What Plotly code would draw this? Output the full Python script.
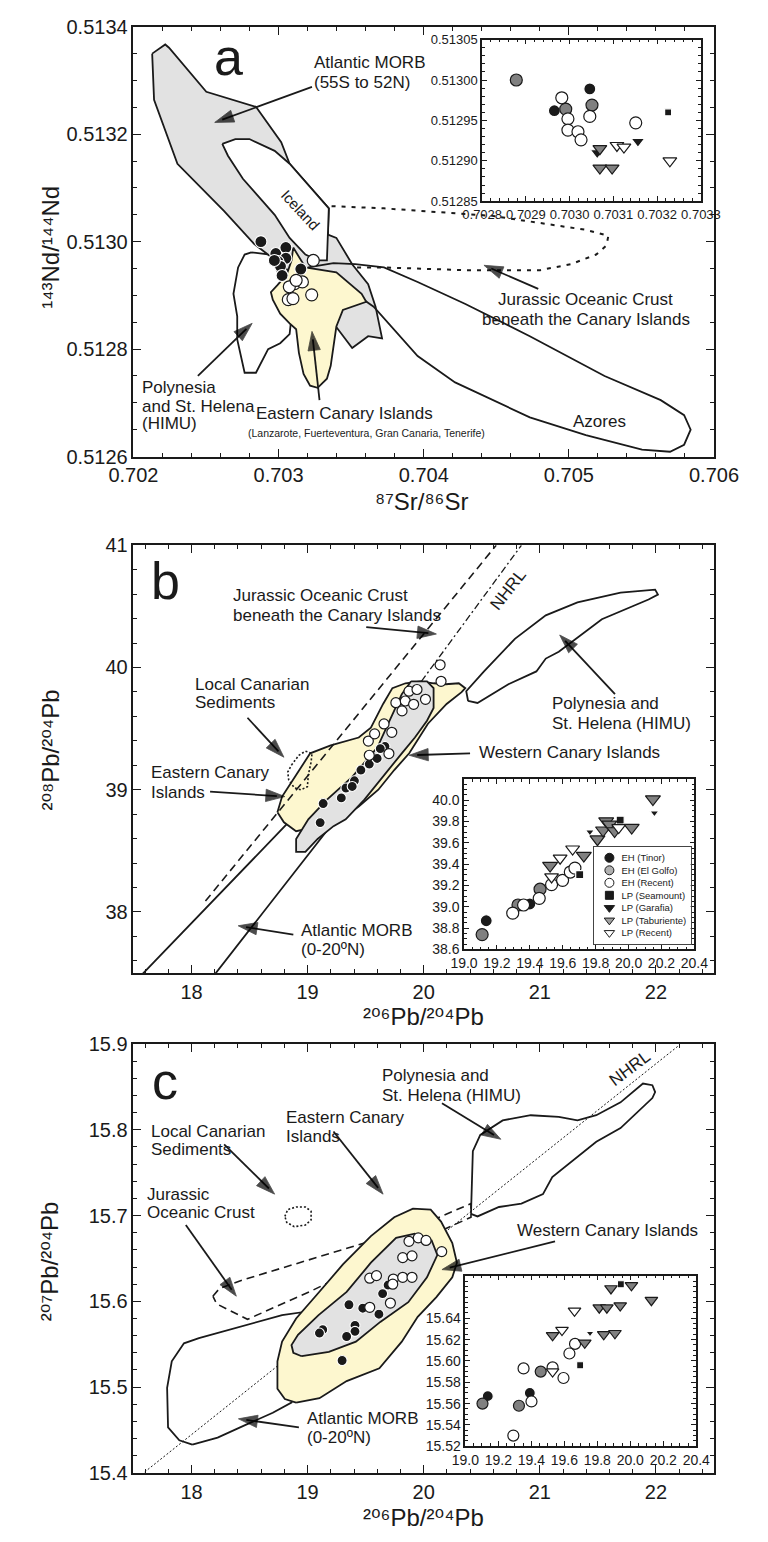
import plotly.graph_objects as go

FONT = "Liberation Sans, Arial, Helvetica, DejaVu Sans, sans-serif"
INK = "#1a1a1a"
YELLOW = "#fdf7cf"
GRAYFILL = "#e2e2e2"
MGRAY = "#808080"

# ================= Panel a : 87Sr/86Sr vs 143Nd/144Nd =================
a_morb_x = [0.702129, 0.702219, 0.702245, 0.702502, 0.702844, 0.703018, 0.703076, 0.703346, 0.703340, 0.703398,
            0.703507, 0.703617, 0.703668, 0.703713, 0.703617, 0.703507, 0.703378, 0.703185, 0.703056, 0.702831,
            0.702625, 0.702303, 0.702142]
a_morb_y = [0.513350, 0.513367, 0.513361, 0.513279, 0.513251, 0.513185, 0.513145, 0.513062, 0.513013, 0.513007,
            0.512958, 0.512921, 0.512879, 0.512820, 0.512824, 0.512802, 0.512848, 0.512906, 0.512949, 0.512996,
            0.513057, 0.513145, 0.513264]
a_iceland_x = [0.702612, 0.702702, 0.702799, 0.702973, 0.703076, 0.703346, 0.703333, 0.703269, 0.703185, 0.703076,
               0.702973, 0.702863, 0.702754, 0.702651]
a_iceland_y = [0.513182, 0.513191, 0.513191, 0.513169, 0.513145, 0.513062, 0.512965, 0.512965, 0.512976, 0.513007,
               0.513050, 0.513084, 0.513117, 0.513160]
a_himu_x = [0.702812, 0.702940, 0.703024, 0.703089, 0.703076, 0.703011, 0.702928, 0.702844, 0.702766, 0.702715,
            0.702715, 0.702689, 0.702721, 0.702766]
a_himu_y = [0.512980, 0.512976, 0.512925, 0.512861, 0.512828, 0.512811, 0.512800, 0.512756, 0.512756, 0.512818,
            0.512861, 0.512903, 0.512952, 0.512976]
a_eci_x = [0.703101, 0.703185, 0.703398, 0.703462, 0.703572, 0.703604, 0.703507, 0.703443, 0.703398, 0.703378,
           0.703359, 0.703333, 0.703269, 0.703217, 0.703172, 0.703140, 0.703121, 0.703076, 0.703011, 0.702960,
           0.702947, 0.702992, 0.703056, 0.703089]
a_eci_y = [0.512989, 0.512952, 0.512943, 0.512928, 0.512903, 0.512888, 0.512879, 0.512873, 0.512842, 0.512805,
           0.512769, 0.512745, 0.512728, 0.512732, 0.512754, 0.512793, 0.512837, 0.512848, 0.512866, 0.512892,
           0.512906, 0.512919, 0.512939, 0.512965]
a_azores_x = [0.703204, 0.703378, 0.703527, 0.703726, 0.703958, 0.704287, 0.704731, 0.705246, 0.705633, 0.705794,
              0.705839, 0.705794, 0.705697, 0.705504, 0.705117, 0.704731, 0.704216, 0.703958, 0.703655, 0.703443]
a_azores_y = [0.512952, 0.512960, 0.512958, 0.512952, 0.512925, 0.512884, 0.512824, 0.512750, 0.512705, 0.512677,
              0.512650, 0.512622, 0.512609, 0.512613, 0.512640, 0.512673, 0.512738, 0.512787, 0.512879, 0.512919]
a_jur_x = [0.703365, 0.703726, 0.704473, 0.705117, 0.705272, 0.705259, 0.705188, 0.705014, 0.704802, 0.704280,
           0.703726, 0.703527]
a_jur_y = [0.513066, 0.513062, 0.513048, 0.513022, 0.513011, 0.512993, 0.512976, 0.512958, 0.512947, 0.512947,
           0.512952, 0.512952]
a_black_x = [0.702878, 0.702981, 0.703050, 0.703050, 0.702996, 0.703013, 0.703024, 0.703153, 0.702971]
a_black_y = [0.513000, 0.512978, 0.512989, 0.512969, 0.512963, 0.512954, 0.512937, 0.512949, 0.512965]
a_white_x = [0.703239, 0.703110, 0.703074, 0.703164, 0.703228, 0.703067, 0.703099, 0.703121]
a_white_y = [0.512965, 0.512922, 0.512916, 0.512925, 0.512901, 0.512892, 0.512894, 0.512928]

# inset a (per sample group)
ia_x = {
    "EH (Tinor)": [0.702965, 0.703046],
    "EH (El Golfo)": [0.702878, 0.702991, 0.703051],
    "EH (Recent)": [0.702982, 0.702996, 0.702996, 0.703019, 0.703026, 0.703046, 0.703151],
    "LP (Seamount)": [0.703225],
    "LP (Garafia)": [0.703063, 0.703156],
    "LP (Taburiente)": [0.703069, 0.703069, 0.703097],
    "LP (Recent)": [0.703108, 0.703124, 0.703229],
}
ia_y = {
    "EH (Tinor)": [0.512962, 0.512989],
    "EH (El Golfo)": [0.513000, 0.512964, 0.512969],
    "EH (Recent)": [0.512978, 0.512952, 0.512938, 0.512936, 0.512926, 0.512955, 0.512947],
    "LP (Seamount)": [0.512960],
    "LP (Garafia)": [0.512910, 0.512924],
    "LP (Taburiente)": [0.512915, 0.512891, 0.512891],
    "LP (Recent)": [0.512919, 0.512917, 0.512900],
}
ia_xticks = [0.7028, 0.7029, 0.7030, 0.7031, 0.7032, 0.7033]
ia_yticks = [0.51285, 0.51290, 0.51295, 0.51300, 0.51305]

# ================= Panel b : 206Pb/204Pb vs 208Pb/204Pb =================
b_morb_x = [17.383, 17.774, 18.820, 18.981, 19.223, 19.344, 19.304, 19.223, 18.362, 18.045]
b_morb_y = [37.300, 37.685, 38.718, 38.919, 39.040, 39.000, 38.839, 38.734, 37.685, 37.300]
b_eci_x = [18.740, 18.780, 18.901, 19.022, 19.199, 19.440, 19.545, 19.650, 19.730, 19.843, 19.972, 20.085, 20.189,
           20.302, 20.358, 20.326, 20.197, 20.036, 19.875, 19.746, 19.609, 19.440, 19.279, 19.062, 18.901, 18.796]
b_eci_y = [38.815, 38.944, 39.121, 39.298, 39.363, 39.427, 39.508, 39.702, 39.831, 39.871, 39.887, 39.871, 39.863,
           39.871, 39.831, 39.798, 39.702, 39.540, 39.298, 39.161, 39.000, 38.863, 38.758, 38.694, 38.661, 38.734]
b_wci_x = [19.891, 20.028, 20.085, 20.085, 20.028, 19.924, 19.811, 19.650, 19.489, 19.328, 19.223, 19.086, 18.981,
           18.901, 18.901, 19.006, 19.167, 19.384, 19.601, 19.706, 19.811]
b_wci_y = [39.887, 39.887, 39.831, 39.669, 39.565, 39.427, 39.298, 39.105, 38.919, 38.758, 38.702, 38.597, 38.492,
           38.492, 38.597, 38.758, 38.919, 39.105, 39.347, 39.565, 39.782]
b_himu_x = [20.382, 20.366, 20.519, 20.785, 21.051, 21.324, 21.695, 21.993, 22.017, 21.936, 21.534, 21.163, 21.051,
            20.970, 20.729, 20.463]
b_himu_y = [39.726, 39.806, 39.968, 40.234, 40.427, 40.532, 40.613, 40.637, 40.597, 40.556, 40.395, 40.129, 40.073,
            39.968, 39.863, 39.710]
b_lcs_x = [18.861, 18.925, 18.981, 19.038, 19.030, 19.006, 18.998, 18.941, 18.885, 18.837, 18.829]
b_lcs_y = [39.202, 39.282, 39.315, 39.298, 39.226, 39.121, 39.024, 39.000, 39.016, 39.081, 39.145]
b_jur_x = [18.120, 20.624]
b_jur_y = [38.089, 41.000]
b_nhrl_x = [19.980, 20.841]
b_nhrl_y = [39.887, 41.000]
b_black_x = [19.108, 19.134, 19.290, 19.330, 19.403, 19.459, 19.531, 19.599, 19.666, 19.626, 19.384]
b_black_y = [38.731, 38.887, 38.933, 39.014, 39.073, 39.161, 39.210, 39.256, 39.355, 39.336, 39.027]
b_white_x = [19.531, 19.700, 19.523, 19.577, 19.658, 19.725, 19.760, 19.813, 19.841, 19.873, 19.942, 20.015, 19.913,
             20.141, 20.149]
b_white_y = [39.282, 39.296, 39.398, 39.457, 39.538, 39.470, 39.712, 39.645, 39.726, 39.806, 39.820, 39.740, 39.699,
             40.022, 39.887]

ib_x = {
    "EH (Tinor)": [19.135, 19.400],
    "EH (El Golfo)": [19.110, 19.328, 19.462],
    "EH (Recent)": [19.296, 19.362, 19.457, 19.532, 19.599, 19.646, 19.674],
    "LP (Seamount)": [19.703, 19.949],
    "LP (Garafia)": [19.765, 20.157],
    "LP (Taburiente)": [19.523, 19.728, 19.811, 19.845, 19.864, 19.883, 19.915, 20.019, 20.148],
    "LP (Recent)": [19.532, 19.584, 19.660, 19.940],
}
ib_y = {
    "EH (Tinor)": [38.869, 39.026],
    "EH (El Golfo)": [38.739, 39.017, 39.165],
    "EH (Recent)": [38.940, 39.017, 39.079, 39.208, 39.248, 39.326, 39.363],
    "LP (Seamount)": [39.301, 39.813],
    "LP (Garafia)": [39.702, 39.881],
    "LP (Taburiente)": [39.387, 39.480, 39.634, 39.718, 39.804, 39.773, 39.711, 39.743, 40.011],
    "LP (Recent)": [39.280, 39.456, 39.542, 39.743],
}
ib_yticks = [38.6, 38.8, 39.0, 39.2, 39.4, 39.6, 39.8, 40.0]

# ================= Panel c : 206Pb/204Pb vs 207Pb/204Pb =================
c_jur_x = [18.184, 18.241, 18.442, 18.981, 19.489, 20.028, 20.407, 20.407, 19.626, 19.014, 18.482, 18.217]
c_jur_y = [15.606, 15.615, 15.625, 15.647, 15.668, 15.692, 15.714, 15.698, 15.651, 15.611, 15.579, 15.597]
c_lcs_x = [18.804, 18.829, 18.901, 18.981, 19.030, 19.030, 18.981, 18.885, 18.820]
c_lcs_y = [15.699, 15.707, 15.710, 15.710, 15.705, 15.695, 15.689, 15.687, 15.692]
c_eci_x = [18.901, 18.804, 18.740, 18.740, 18.780, 18.901, 19.094, 19.304, 19.545, 19.746, 19.907, 20.060, 20.149,
           20.246, 20.286, 20.246, 20.109, 19.948, 19.811, 19.618, 19.336, 19.102]
c_eci_y = [15.482, 15.486, 15.498, 15.530, 15.553, 15.580, 15.610, 15.643, 15.676, 15.698, 15.708, 15.707, 15.693,
           15.668, 15.645, 15.628, 15.605, 15.582, 15.553, 15.522, 15.507, 15.487]
c_wci_x = [18.949, 18.877, 18.861, 18.917, 19.094, 19.336, 19.545, 19.762, 19.923, 20.068, 20.117, 20.028, 19.867,
           19.626, 19.416, 19.183]
c_wci_y = [15.536, 15.540, 15.549, 15.561, 15.584, 15.611, 15.645, 15.674, 15.679, 15.671, 15.654, 15.628, 15.599,
           15.576, 15.553, 15.541]
c_morb_x = [18.007, 17.895, 17.798, 17.790, 17.830, 17.935, 18.064, 18.418, 18.780, 18.941, 18.981, 18.861, 18.700,
            18.466, 18.225]
c_morb_y = [15.433, 15.438, 15.453, 15.499, 15.530, 15.551, 15.557, 15.570, 15.584, 15.587, 15.518, 15.482, 15.470,
            15.456, 15.441]
c_himu_x = [20.407, 20.423, 20.487, 20.680, 20.922, 21.163, 21.324, 21.486, 21.695, 21.888, 21.969, 21.993, 21.969,
            21.695, 21.486, 21.268, 21.107, 21.027, 20.841, 20.648, 20.519, 20.463]
c_himu_y = [15.702, 15.775, 15.794, 15.811, 15.817, 15.815, 15.811, 15.817, 15.832, 15.854, 15.852, 15.844, 15.837,
            15.802, 15.786, 15.763, 15.745, 15.725, 15.714, 15.710, 15.702, 15.699]
c_nhrl_x = [17.597, 22.194]
c_nhrl_y = [15.401, 15.898]
c_white_x = [19.873, 19.953, 20.020, 19.819, 19.899, 20.155, 19.738, 19.819, 19.899, 19.535, 19.593, 19.733, 19.535,
             19.713]
c_white_y = [15.670, 15.674, 15.671, 15.651, 15.653, 15.658, 15.626, 15.628, 15.628, 15.627, 15.630, 15.620, 15.593,
             15.598]
c_black_x = [19.693, 19.646, 19.356, 19.475, 19.614, 19.130, 19.408, 19.408, 19.336, 19.297, 19.102]
c_black_y = [15.619, 15.609, 15.596, 15.592, 15.585, 15.567, 15.572, 15.565, 15.559, 15.531, 15.563]

ic_x = {
    "EH (Tinor)": [19.136, 19.391],
    "EH (El Golfo)": [19.104, 19.325, 19.457],
    "EH (Recent)": [19.291, 19.353, 19.401, 19.529, 19.595, 19.631, 19.665],
    "LP (Seamount)": [19.696, 19.943],
    "LP (Garafia)": [19.756],
    "LP (Taburiente)": [19.529, 19.724, 19.883, 19.812, 19.858, 19.939, 20.007, 20.128, 19.839, 19.907],
    "LP (Recent)": [19.529, 19.586, 19.662],
}
ic_y = {
    "EH (Tinor)": [15.567, 15.570],
    "EH (El Golfo)": [15.560, 15.558, 15.590],
    "EH (Recent)": [15.530, 15.593, 15.562, 15.594, 15.584, 15.607, 15.616],
    "LP (Seamount)": [15.596, 15.672],
    "LP (Garafia)": [15.626],
    "LP (Taburiente)": [15.624, 15.617, 15.668, 15.650, 15.650, 15.652, 15.671, 15.657, 15.625, 15.626],
    "LP (Recent)": [15.590, 15.629, 15.647],
}
ic_yticks = [15.52, 15.54, 15.56, 15.58, 15.60, 15.62, 15.64]
pb_inset_xticks = [19.0, 19.2, 19.4, 19.6, 19.8, 20.0, 20.2, 20.4]

legend_labels = ["EH (Tinor)", "EH (El Golfo)", "EH (Recent)", "LP (Seamount)",
                 "LP (Garafia)", "LP (Taburiente)", "LP (Recent)"]

# arrows: (panel, tail_x, tail_y, head_x, head_y)
arrows = [
    ("a", 0.703230, 0.513288, 0.702560, 0.513222),
    ("a", 0.704789, 0.512912, 0.704415, 0.512956),
    ("a", 0.702444, 0.512750, 0.702818, 0.512848),
    ("a", 0.703282, 0.512705, 0.703230, 0.512833),
    ("b", 19.505, 40.331, 20.109, 40.274),
    ("b", 18.482, 39.589, 18.796, 39.266),
    ("b", 18.160, 38.984, 18.804, 38.944),
    ("b", 21.647, 39.782, 21.171, 40.266),
    ("b", 20.399, 39.298, 19.875, 39.282),
    ("b", 18.877, 37.815, 18.402, 37.887),
    ("c", 20.157, 15.831, 20.664, 15.789),
    ("c", 19.223, 15.798, 19.650, 15.725),
    ("c", 18.281, 15.783, 18.716, 15.725),
    ("c", 17.951, 15.689, 18.386, 15.606),
    ("c", 21.131, 15.670, 20.157, 15.637),
    ("c", 18.925, 15.453, 18.404, 15.463),
]

# ---------------- styles ----------------
group_style = {
    "EH (Tinor)": dict(symbol="circle", color=INK, line="white"),
    "EH (El Golfo)": dict(symbol="circle", color=MGRAY, line=INK),
    "EH (Recent)": dict(symbol="circle", color="white", line=INK),
    "LP (Seamount)": dict(symbol="square", color=INK, line="white"),
    "LP (Garafia)": dict(symbol="triangle-down", color=INK, line="white"),
    "LP (Taburiente)": dict(symbol="triangle-down", color=MGRAY, line=INK),
    "LP (Recent)": dict(symbol="triangle-down", color="white", line=INK),
}
size_a = {"EH (Tinor)": 12, "EH (El Golfo)": 12, "EH (Recent)": 12, "LP (Seamount)": 7,
          "LP (Garafia)": 12, "LP (Taburiente)": 12, "LP (Recent)": 12}
size_b = {"EH (Tinor)": 12, "EH (El Golfo)": 12, "EH (Recent)": 12, "LP (Seamount)": 8,
          "LP (Garafia)": 8, "LP (Taburiente)": 13, "LP (Recent)": 12}
size_c = {"EH (Tinor)": 11, "EH (El Golfo)": 11, "EH (Recent)": 11, "LP (Seamount)": 7,
          "LP (Garafia)": 7, "LP (Taburiente)": 11, "LP (Recent)": 11}
legend_colors = {"EH (El Golfo)": "#b0b0b0", "LP (Taburiente)": "#a0a0a0"}

fig = go.Figure()

A = ("x", "y")
AI = ("x2", "y2")
B = ("x3", "y3")
BI = ("x4", "y4")
C = ("x5", "y5")
CI = ("x6", "y6")
panel_axes = {"a": A, "b": B, "c": C}


def poly(x, y, ax, fill=None, dash="solid", width=1.8, closed=True):
    xs = list(x) + ([x[0]] if closed else [])
    ys = list(y) + ([y[0]] if closed else [])
    fig.add_trace(go.Scatter(
        x=xs, y=ys, xaxis=ax[0], yaxis=ax[1], mode="lines",
        line=dict(color=INK, width=width, dash=dash),
        fill="toself" if fill else None, fillcolor=fill,
        hoverinfo="skip", showlegend=False))


def pts(x, y, ax, color, line, size, symbol="circle", lw=1.1):
    fig.add_trace(go.Scatter(
        x=x, y=y, xaxis=ax[0], yaxis=ax[1], mode="markers",
        marker=dict(symbol=symbol, size=size, color=color, line=dict(color=line, width=lw)),
        hoverinfo="skip", showlegend=False))


# panel a
poly(a_himu_x, a_himu_y, A, fill="white")
poly(a_morb_x, a_morb_y, A, fill=GRAYFILL)
poly(a_iceland_x, a_iceland_y, A, fill="white")
poly(a_azores_x, a_azores_y, A)
poly(a_eci_x, a_eci_y, A, fill=YELLOW)
poly(a_jur_x, a_jur_y, A, dash="4px,6px", width=2, closed=False)
pts(a_black_x, a_black_y, A, INK, "white", 12)
pts(a_white_x, a_white_y, A, "white", INK, 12, lw=1.2)

# panel b
poly(b_morb_x, b_morb_y, B)
poly(b_eci_x, b_eci_y, B, fill=YELLOW)
poly(b_wci_x, b_wci_y, B, fill=GRAYFILL)
poly(b_himu_x, b_himu_y, B)
poly(b_jur_x, b_jur_y, B, dash="8px,5px", width=1.6, closed=False)
poly(b_nhrl_x, b_nhrl_y, B, dash="7px,3px,2px,3px", width=1.3, closed=False)
poly(b_lcs_x, b_lcs_y, B, dash="2px,2px", width=1.6)
pts(b_black_x, b_black_y, B, INK, "white", 10)
pts(b_white_x, b_white_y, B, "white", INK, 10, lw=1.2)

# panel c
poly(c_nhrl_x, c_nhrl_y, C, dash="2px,2px", width=1.0, closed=False)
poly(c_morb_x, c_morb_y, C)
poly(c_jur_x, c_jur_y, C, dash="8px,5px", width=1.6)
poly(c_eci_x, c_eci_y, C, fill=YELLOW)
poly(c_wci_x, c_wci_y, C, fill=GRAYFILL)
poly(c_himu_x, c_himu_y, C)
poly(c_lcs_x, c_lcs_y, C, dash="2px,2px", width=1.6)
pts(c_black_x, c_black_y, C, INK, "white", 10)
pts(c_white_x, c_white_y, C, "white", INK, 10, lw=1.2)

# arrows (line + arrow-head marker oriented along the segment)
for panel, tx, ty, hx, hy in arrows:
    ax = panel_axes[panel]
    fig.add_trace(go.Scatter(
        x=[tx, hx], y=[ty, hy], xaxis=ax[0], yaxis=ax[1], mode="lines+markers",
        line=dict(color=INK, width=1.8, backoff=8),
        marker=dict(symbol=["circle", "arrow"], size=[0, 20], angleref="previous",
                    color="#000000", line=dict(width=0.8, color="#000000")),
        cliponaxis=False, hoverinfo="skip", showlegend=False))

# insets
for gx, gy, ax, sizes in ((ia_x, ia_y, AI, size_a), (ib_x, ib_y, BI, size_b), (ic_x, ic_y, CI, size_c)):
    for name in legend_labels:
        st = group_style[name]
        pts(gx[name], gy[name], ax, st["color"], st["line"], sizes[name], symbol=st["symbol"], lw=1.2)

# legend box (small subplot with one symbol per category)
for name in legend_labels:
    st = group_style[name]
    fig.add_trace(go.Scatter(
        x=[0], y=[name], xaxis="x7", yaxis="y7", mode="markers",
        marker=dict(symbol=st["symbol"], size=9 if st["symbol"] != "square" else 8,
                    color=legend_colors.get(name, st["color"]),
                    line=dict(color=INK, width=1)),
        hoverinfo="skip", showlegend=False))


def px_y(top, bottom):
    return [1 - bottom / 1542, 1 - top / 1542]


def px_x(left, right):
    return [left / 768, right / 768]


def axis(domain, rng, anchor, fs=20, ticklen=8, mticklen=4, **kw):
    d = dict(domain=domain, range=rng, anchor=anchor, ticks="inside", ticklen=ticklen, tickwidth=1.3,
             tickcolor=INK, showline=True, linewidth=1.6, linecolor=INK, mirror="ticks",
             showgrid=False, zeroline=False, tickfont=dict(size=fs, color=INK, family=FONT))
    d.update(kw)
    d["minor"] = dict(ticks="inside", ticklen=mticklen, tickwidth=1, tickcolor=INK, **d.pop("minor", {}))
    return d


layout = dict(
    width=768, height=1542, margin=dict(l=0, r=0, t=0, b=0),
    paper_bgcolor="white", plot_bgcolor="white", showlegend=False,
    font=dict(family=FONT, color=INK),
    xaxis=axis(px_x(116, 737), [0.702, 0.706], "y", tick0=0.702, dtick=0.001, tickformat=".3f",
               minor=dict(tick0=0.702, dtick=0.0002)),
    yaxis=axis(px_y(16, 452), [0.5126, 0.5134], "x", tick0=0.5126, dtick=0.0002, tickformat=".4f",
               minor=dict(tick0=0.5126, dtick=0.00005)),
    xaxis2=axis(px_x(489, 723), [0.7028, 0.7033], "y2", fs=13, ticklen=5, mticklen=3,
                tickmode="array", tickvals=ia_xticks, tickformat=".4f",
                minor=dict(tickmode="linear", tick0=0.7028, dtick=0.00002)),
    yaxis2=axis(px_y(29, 193), [0.51285, 0.51305], "x2", fs=13, ticklen=5, mticklen=3,
                tickmode="array", tickvals=ia_yticks, tickformat=".5f",
                minor=dict(tickmode="linear", tick0=0.51285, dtick=0.00001)),
    xaxis3=axis(px_x(116, 737), [17.5, 22.5], "y3", tick0=18, dtick=1, minor=dict(tick0=18, dtick=0.2)),
    yaxis3=axis(px_y(542, 976), [37.5, 41.0], "x3", tick0=38, dtick=1, minor=dict(tick0=38, dtick=0.2)),
    xaxis4=axis(px_x(469.6, 716), [19.0, 20.4], "y4", fs=14, ticklen=5, mticklen=3,
                tickmode="array", tickvals=pb_inset_xticks, tickformat=".1f",
                minor=dict(tickmode="linear", tick0=19.0, dtick=0.05)),
    yaxis4=axis(px_y(779, 952), [38.6, 40.2], "x4", fs=14, ticklen=5, mticklen=3,
                tickmode="array", tickvals=ib_yticks, tickformat=".1f",
                minor=dict(tickmode="linear", tick0=38.6, dtick=0.05)),
    xaxis5=axis(px_x(116, 737), [17.5, 22.5], "y5", tick0=18, dtick=1, minor=dict(tick0=18, dtick=0.2)),
    yaxis5=axis(px_y(1048, 1483), [15.4, 15.9], "x5", tick0=15.4, dtick=0.1, tickformat=".1f",
                minor=dict(tick0=15.4, dtick=0.02)),
    xaxis6=axis(px_x(471, 718), [19.0, 20.4], "y6", fs=14, ticklen=5, mticklen=3,
                tickmode="array", tickvals=pb_inset_xticks, tickformat=".1f",
                minor=dict(tickmode="linear", tick0=19.0, dtick=0.05)),
    yaxis6=axis(px_y(1283, 1456), [15.52, 15.68], "x6", fs=14, ticklen=5, mticklen=3,
                tickmode="array", tickvals=ic_yticks, tickformat=".2f",
                minor=dict(tickmode="linear", tick0=15.52, dtick=0.005)),
    xaxis7=dict(domain=px_x(609, 712), range=[-1, 5.4], anchor="y7", showticklabels=False, ticks="",
                showline=True, mirror=True, linecolor="#444", linewidth=1, showgrid=False, zeroline=False),
    yaxis7=dict(domain=px_y(848, 947), anchor="x7", type="category", categoryorder="array",
                categoryarray=legend_labels, range=[6.93, -0.87], side="left", ticklabelposition="inside",
                ticks="", ticklabelstandoff=26, tickfont=dict(size=9.5, color=INK, family=FONT),
                showline=True, mirror=True, linecolor="#444", linewidth=1, showgrid=False, zeroline=False),
)

# ---------------- text labels (positions in data units of each panel) ----------------
labels = [
    # panel a
    ("a", "x", "y", 0.702657, 0.513343, 52, "center", 0),
    ("Atlantic MORB", "x", "y", 0.703230, 0.513334, 17, "left", 0),
    ("(55S to 52N)", "x", "y", 0.703230, 0.513297, 17, "left", 0),
    ("Iceland", "x", "y", 0.703146, 0.513059, 15, "center", 47),
    ("Jurassic Oceanic Crust", "x", "y", 0.705117, 0.512892, 17, "center", 0),
    ("beneath the Canary Islands", "x", "y", 0.705117, 0.512855, 17, "center", 0),
    ("Polynesia", "x", "y", 0.702045, 0.512728, 17, "left", 0),
    ("and St. Helena", "x", "y", 0.702045, 0.512694, 17, "left", 0),
    ("(HIMU)", "x", "y", 0.702045, 0.512661, 17, "left", 0),
    ("Eastern Canary Islands", "x", "y", 0.702831, 0.512681, 17, "left", 0),
    ("(Lanzarote, Fuerteventura, Gran Canaria, Tenerife)", "x", "y", 0.702773, 0.512644, 10.5, "left", 0),
    ("Azores", "x", "y", 0.705214, 0.512665, 17, "center", 0),
    # panel b
    ("b", "x3", "y3", 17.774, 40.710, 52, "center", 0),
    ("Jurassic Oceanic Crust", "x3", "y3", 18.337, 40.589, 17, "left", 0),
    ("beneath the Canary Islands", "x3", "y3", 18.337, 40.427, 17, "left", 0),
    ("Local Canarian", "x3", "y3", 18.015, 39.863, 17, "left", 0),
    ("Sediments", "x3", "y3", 18.015, 39.710, 17, "left", 0),
    ("Eastern Canary", "x3", "y3", 17.637, 39.137, 17, "left", 0),
    ("Islands", "x3", "y3", 17.637, 38.976, 17, "left", 0),
    ("NHRL", "x3", "y3", 20.729, 40.637, 17, "center", -52),
    ("Polynesia and", "x3", "y3", 21.091, 39.702, 17, "left", 0),
    ("St. Helena (HIMU)", "x3", "y3", 21.091, 39.540, 17, "left", 0),
    ("Western Canary Islands", "x3", "y3", 20.463, 39.306, 17, "left", 0),
    ("Atlantic MORB", "x3", "y3", 18.925, 37.847, 17, "left", 0),
    ("(0-20ºN)", "x3", "y3", 18.925, 37.694, 17, "left", 0),
    # panel c
    ("c", "x5", "y5", 17.774, 15.857, 52, "center", 0),
    ("Polynesia and", "x5", "y5", 19.626, 15.863, 17, "left", 0),
    ("St. Helena (HIMU)", "x5", "y5", 19.626, 15.840, 17, "left", 0),
    ("Eastern Canary", "x5", "y5", 18.796, 15.814, 17, "left", 0),
    ("Islands", "x5", "y5", 18.796, 15.792, 17, "left", 0),
    ("Local Canarian", "x5", "y5", 17.637, 15.798, 17, "left", 0),
    ("Sediments", "x5", "y5", 17.637, 15.777, 17, "left", 0),
    ("Jurassic", "x5", "y5", 17.597, 15.725, 17, "left", 0),
    ("Oceanic Crust", "x5", "y5", 17.597, 15.703, 17, "left", 0),
    ("Western Canary Islands", "x5", "y5", 20.785, 15.683, 17, "left", 0),
    ("Atlantic MORB", "x5", "y5", 18.981, 15.463, 17, "left", 0),
    ("(0-20ºN)", "x5", "y5", 18.981, 15.441, 17, "left", 0),
    ("NHRL", "x5", "y5", 21.775, 15.871, 17, "center", -37),
]

titles = [
    ("¹⁴³Nd/¹⁴⁴Nd", 27 / 768, 1 - 240 / 1542, -90),
    ("⁸⁷Sr/⁸⁶Sr", 424 / 768, 1 - 498 / 1542, 0),
    ("²⁰⁸Pb/²⁰⁴Pb", 27 / 768, 1 - 750 / 1542, -90),
    ("²⁰⁶Pb/²⁰⁴Pb", 426 / 768, 1 - 1020 / 1542, 0),
    ("²⁰⁷Pb/²⁰⁴Pb", 27 / 768, 1 - 1268 / 1542, -90),
    ("²⁰⁶Pb/²⁰⁴Pb", 426 / 768, 1 - 1528 / 1542, 0),
]

ann = []
for text, xr, yr, x, y, fs, anchor, ang in labels:
    ann.append(dict(text=text, xref=xr, yref=yr, x=x, y=y, showarrow=False, xanchor=anchor,
                    yanchor="middle", textangle=ang, font=dict(size=fs, color=INK, family=FONT)))
for text, x, y, ang in titles:
    ann.append(dict(text=text, xref="paper", yref="paper", x=x, y=y, showarrow=False, xanchor="center",
                    yanchor="middle", textangle=ang, font=dict(size=24, color=INK, family=FONT)))

layout["annotations"] = ann
fig.update_layout(**layout)
fig.write_html("out.html")
